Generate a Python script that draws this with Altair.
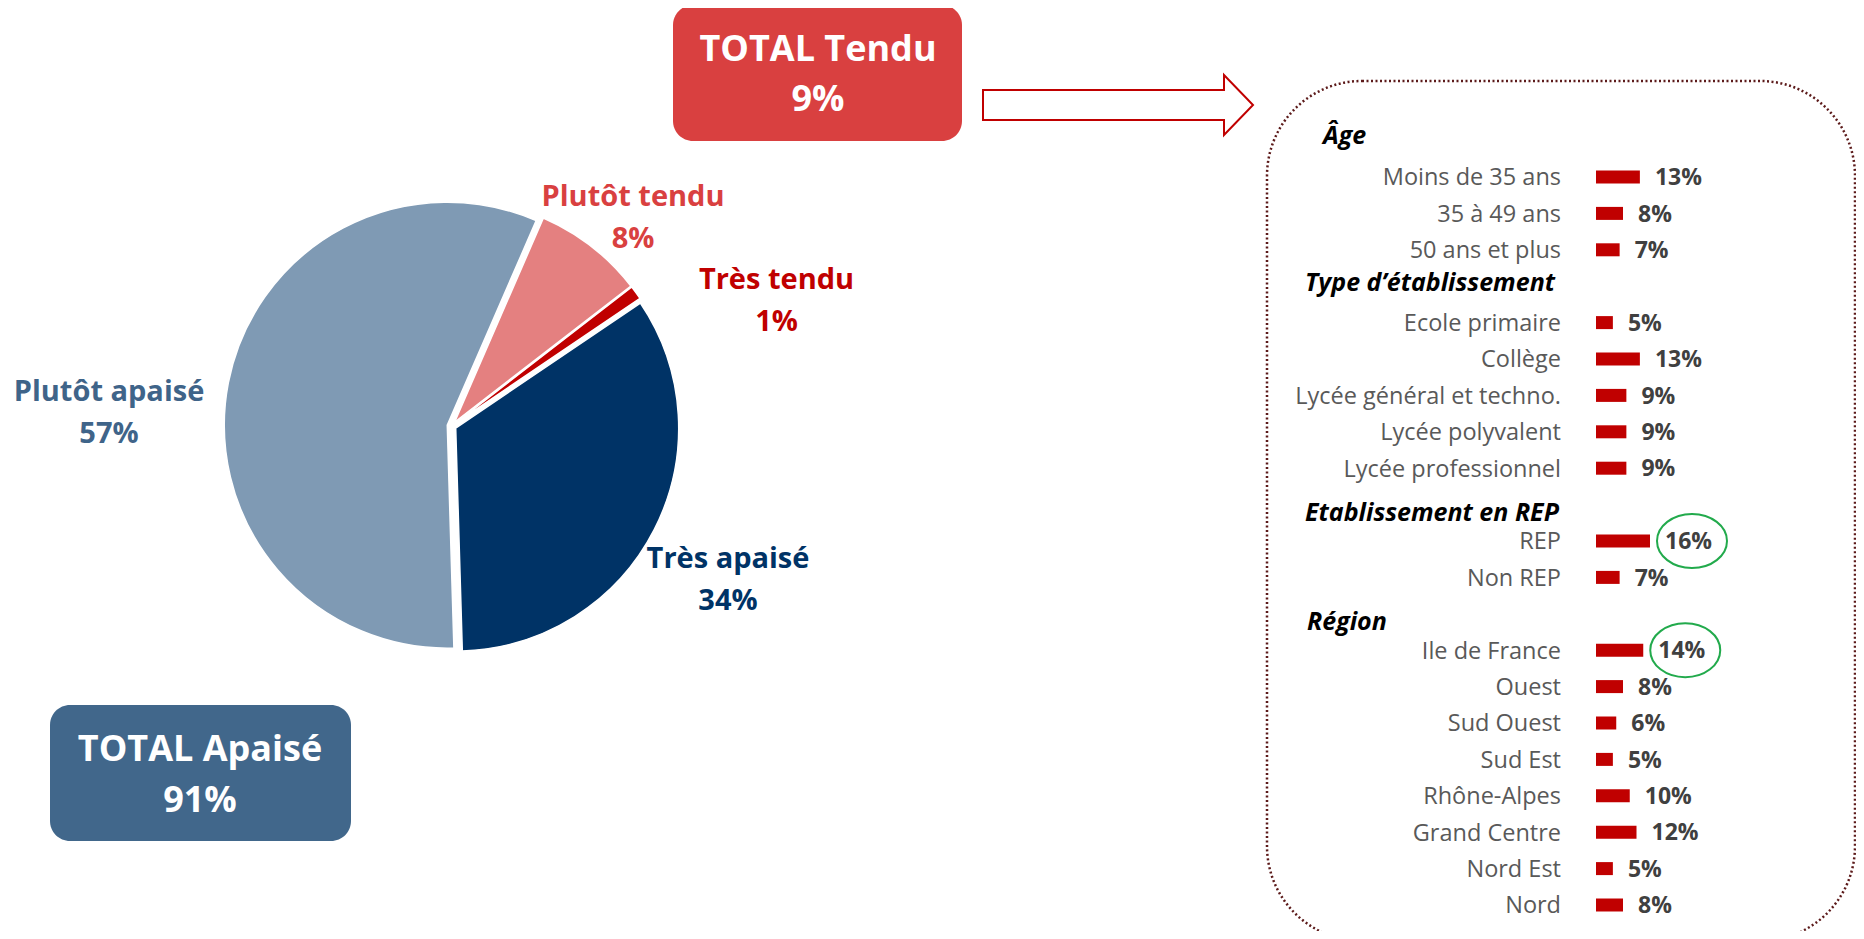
import math
import altair as alt
import pandas as pd

# ---------------- data ----------------
pie_categories = ["Plutôt tendu", "Très tendu", "Très apaisé", "Plutôt apaisé"]
pie_values = [8, 1, 34, 57]

total_labels = ["TOTAL Tendu", "TOTAL Apaisé"]
total_values = [9, 91]

group_titles = ["Âge", "Type d’établissement", "Etablissement en REP", "Région"]
age_labels = ["Moins de 35 ans", "35 à 49 ans", "50 ans et plus"]
age_values = [13, 8, 7]
type_labels = ["Ecole primaire", "Collège", "Lycée général et techno.",
               "Lycée polyvalent", "Lycée professionnel"]
type_values = [5, 13, 9, 9, 9]
rep_labels = ["REP", "Non REP"]
rep_values = [16, 7]
region_labels = ["Ile de France", "Ouest", "Sud Ouest", "Sud Est",
                 "Rhône-Alpes", "Grand Centre", "Nord Est", "Nord"]
region_values = [14, 8, 6, 5, 10, 12, 5, 8]
highlighted = ["REP", "Ile de France"]

# ---------------- styles ----------------
FONT = "Open Sans"
CAP = 0.357  # half cap-height ratio
pie_colors = ["#E48080", "#C00000", "#003366", "#7F9AB4"]
pie_label_colors = ["#D94040", "#C00000", "#003366", "#3F6489"]
total_fill = ["#D94040", "#41678B"]

# ---------------- tables ----------------
pie_df = pd.DataFrame({"category": pie_categories, "value": pie_values})
pie_df["pct"] = [f"{v}%" for v in pie_values]
TOTAL = sum(pie_values)

tot_df = pd.DataFrame({"label": total_labels, "value": total_values})
tot_df["pct"] = [f"{v}%" for v in total_values]

groups = [(group_titles[0], age_labels, age_values),
          (group_titles[1], type_labels, type_values),
          (group_titles[2], rep_labels, rep_values),
          (group_titles[3], region_labels, region_values)]
line_order, header_rows, item_rows = [], [], []
for title, labs, vals in groups:
    line_order.append(title)
    header_rows.append({"line": title})
    for l, v in zip(labs, vals):
        line_order.append(l)
        item_rows.append({"line": l, "value": v, "pct": f"{v}%"})
head_df = pd.DataFrame(header_rows)
item_df = pd.DataFrame(item_rows)
one = pd.DataFrame({"k": [0]})

ys = alt.Scale(type="point", domain=line_order, range=[132.6, 897], padding=0)
xs = alt.Scale(domain=[0, 100], range=[1588, 1925.5])
Y = alt.Y("line:N", scale=ys, axis=None)
X = alt.X("value:Q", scale=xs, axis=None)

layers = []

# dotted rounded frame
layers.append(alt.Chart(one).mark_rect(
    fill="white", stroke="#5C1A1A", strokeWidth=2.5, strokeDash=[2, 2.5],
    cornerRadius=95).encode(x=alt.value(1259), x2=alt.value(1847),
                            y=alt.value(73), y2=alt.value(933)))

# bars
layers.append(alt.Chart(item_df).mark_bar(color="#C00000", height=13).encode(x=X, y=Y))
# row labels
RS = 23.5
layers.append(alt.Chart(item_df).mark_text(
    align="right", baseline="alphabetic", dy=RS * CAP, font=FONT, fontSize=RS,
    color="#595959").encode(x=alt.value(1553), y=Y, text="line:N"))
# value labels
layers.append(alt.Chart(item_df).mark_text(
    align="left", baseline="alphabetic", dx=15, dy=23 * CAP, font=FONT, fontSize=23,
    fontWeight="bold", color="#404040").encode(x=X, y=Y, text="pct:N"))
# group headers (small per-title nudges as in the original layout)
HS = 25
header_nudge = {group_titles[0]: (1315, -5.6), group_titles[1]: (1297, -4.2),
                group_titles[2]: (1297, 7.4), group_titles[3]: (1299, 7.2)}
for title in group_titles:
    hx, hdy = header_nudge[title]
    layers.append(alt.Chart(head_df).transform_filter(alt.datum.line == title).mark_text(
        align="left", baseline="alphabetic", dy=HS * CAP + hdy, font=FONT, fontSize=HS,
        fontWeight="bold", fontStyle="italic", color="#000000").encode(
        x=alt.value(hx), y=Y, text="line:N"))
# highlight ellipses
ELLIPSE = "M -35 0 A 35 27 0 1 0 35 0 A 35 27 0 1 0 -35 0 Z"
layers.append(alt.Chart(item_df).transform_filter(
    alt.FieldOneOfPredicate(field="line", oneOf=highlighted)).mark_point(
    shape=ELLIPSE, size=4, filled=False, color="#22AA4C", strokeWidth=2,
    opacity=1, xOffset=42).encode(x=X, y=Y))

# arrow
ARROW = "M -135 -15 L 106 -15 L 106 -30 L 135 0 L 106 30 L 106 15 L -135 15 Z"
layers.append(alt.Chart(one).mark_point(
    shape=ARROW, size=4, filled=True, fill="white", stroke="#C00000",
    strokeWidth=2, opacity=1).encode(x=alt.value(1110), y=alt.value(97)))

# total boxes
box_geom = [(665, 954, -3, 133, 810, 40, 90), (42, 343, 697, 833, 192, 740, 791)]
for lab, fill, (x1, x2, y1, y2, tx, ty1, ty2) in zip(total_labels, total_fill, box_geom):
    layers.append(alt.Chart(one).mark_rect(fill=fill, cornerRadius=20).encode(
        x=alt.value(x1), x2=alt.value(x2), y=alt.value(y1), y2=alt.value(y2)))
    base = alt.Chart(tot_df).transform_filter(alt.datum.label == lab)
    layers.append(base.mark_text(align="center", baseline="alphabetic", dy=36 * CAP,
                                 font=FONT, fontSize=36, fontWeight="bold", color="white")
                  .encode(x=alt.value(tx), y=alt.value(ty1), text="label:N"))
    layers.append(base.mark_text(align="center", baseline="alphabetic", dy=36 * CAP,
                                 font=FONT, fontSize=36, fontWeight="bold", color="white")
                  .encode(x=alt.value(tx), y=alt.value(ty2), text="pct:N"))

# pie
A0 = math.radians(23.5)
CX, CY, EXPL = 443.7, 418.0, 4.5
pie = alt.Chart(pie_df).transform_window(
    cum="sum(value)", frame=[None, 0]
).transform_calculate(
    start="datum.cum - datum.value",
    mid=f"{A0} + 2 * PI * (datum.cum - datum.value / 2) / {TOTAL}",
    cx=f"{CX} + {EXPL} * sin(datum.mid)",
    cy=f"{CY} - {EXPL} * cos(datum.mid)",
).mark_arc(outerRadius=223, stroke="white", strokeWidth=1.5).encode(
    theta=alt.Theta("start:Q", scale=alt.Scale(domain=[0, TOTAL], range=[A0, A0 + 2 * math.pi])),
    theta2=alt.Theta2("cum:Q"),
    x=alt.X("cx:Q", scale=None, axis=None),
    y=alt.Y("cy:Q", scale=None, axis=None),
    color=alt.Color("category:N", scale=alt.Scale(domain=pie_categories, range=pie_colors),
                    legend=None),
)
layers.append(pie)

# pie labels
label_pos = {"Plutôt tendu": (625, 187.5, 229.5),
             "Très tendu": (768.5, 271, 313),
             "Très apaisé": (720, 549.5, 592),
             "Plutôt apaisé": (101, 383, 424.5)}
for cat, col in zip(pie_categories, pie_label_colors):
    px, py1, py2 = label_pos[cat]
    base = alt.Chart(pie_df).transform_filter(alt.datum.category == cat)
    for field, py in (("category", py1), ("pct", py2)):
        layers.append(base.mark_text(align="center", baseline="alphabetic", dy=29 * CAP,
                                     font=FONT, fontSize=29, fontWeight="bold", color=col)
                      .encode(x=alt.value(px), y=alt.value(py), text=f"{field}:N"))

chart = alt.layer(*layers).properties(
    width=1848, height=923, padding=0,
    autosize=alt.AutoSizeParams(type="none"),
).configure_view(strokeWidth=0)

chart.save("out.html", embed_options={"renderer": "svg", "actions": False})
